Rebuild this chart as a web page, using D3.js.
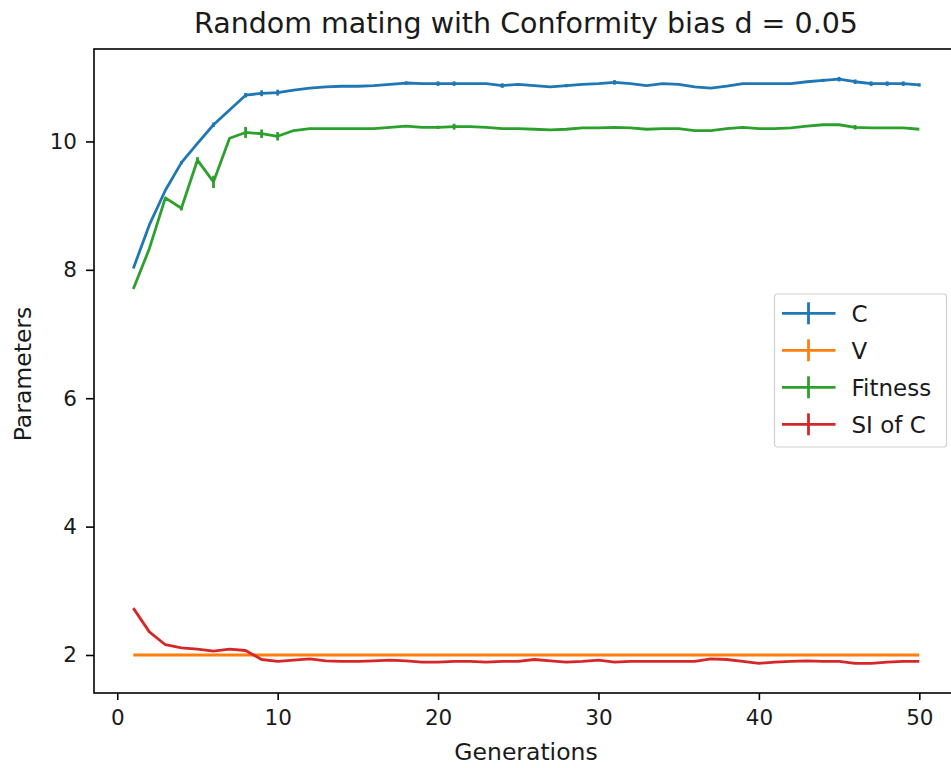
<!DOCTYPE html>
<html>
<head>
<meta charset="utf-8">
<script src="https://cdn.jsdelivr.net/npm/d3@7"></script>
<style>
body{margin:0;background:#fff;}
svg{display:block;font-family:"DejaVu Sans",sans-serif;}
</style>
</head>
<body>
<svg id="chart" width="951" height="768"></svg>
<script>
const generations = d3.range(1, 51);
const seriesNames = ["C", "V", "Fitness", "SI of C"];
const seriesColors = ["#1f77b4", "#ff7f0e", "#2ca02c", "#d62728"];
const cValues = [8.02,8.70,9.24,9.67,9.97,10.26,10.49,10.72,10.75,10.76,
  10.80,10.83,10.85,10.86,10.86,10.87,10.89,10.91,10.90,10.90,
  10.90,10.90,10.90,10.87,10.89,10.87,10.85,10.87,10.89,10.90,
  10.92,10.90,10.87,10.90,10.89,10.85,10.83,10.86,10.90,10.90,
  10.90,10.90,10.93,10.95,10.97,10.93,10.90,10.90,10.90,10.88];
const vValues = generations.map(() => 2.0);
const fitnessValues = [7.70,8.33,9.12,8.96,9.71,9.37,10.05,10.14,10.12,10.08,
  10.17,10.20,10.20,10.20,10.20,10.20,10.22,10.24,10.22,10.22,
  10.23,10.23,10.22,10.20,10.20,10.19,10.18,10.19,10.21,10.21,
  10.22,10.21,10.19,10.20,10.20,10.17,10.17,10.20,10.22,10.20,
  10.20,10.21,10.24,10.26,10.26,10.22,10.21,10.21,10.21,10.19];
const siValues = [2.73,2.36,2.16,2.11,2.09,2.06,2.09,2.07,1.93,1.90,
  1.92,1.94,1.91,1.90,1.90,1.91,1.92,1.91,1.89,1.89,
  1.90,1.90,1.89,1.90,1.90,1.93,1.91,1.89,1.90,1.92,
  1.89,1.90,1.90,1.90,1.90,1.90,1.94,1.93,1.90,1.87,
  1.89,1.90,1.91,1.90,1.90,1.87,1.87,1.89,1.90,1.90];
const cErrors = [0,0,0,0.01,0,0.02,0,0.02,0.03,0.03,0,0,0,0,0,0,0,0.01,0,0.02,
  0.02,0,0,0.02,0,0,0,0.01,0,0,0.02,0,0,0,0,0,0,0,0,0,0,0,0,0.01,0.02,0.02,0.02,0.02,0.02,0.01];
const fitnessErrors = [0,0,0,0.02,0.03,0.08,0,0.07,0.05,0.05,0,0,0,0,0,0,0,0,0,0.01,
  0.03,0,0,0,0,0,0,0,0,0,0,0,0,0,0,0,0,0,0,0,0,0,0,0,0,0.02,0,0,0,0];
const vErrors = generations.map(() => 0);
const siErrors = generations.map(() => 0);
const xTicks = [0, 10, 20, 30, 40, 50];
const yTicks = [2, 4, 6, 8, 10];
const titleText = "Random mating with Conformity bias d = 0.05";
const xLabel = "Generations";
const yLabel = "Parameters";

const series = [
  {name: seriesNames[0], color: seriesColors[0], values: cValues, errors: cErrors},
  {name: seriesNames[1], color: seriesColors[1], values: vValues, errors: vErrors},
  {name: seriesNames[2], color: seriesColors[2], values: fitnessValues, errors: fitnessErrors},
  {name: seriesNames[3], color: seriesColors[3], values: siValues, errors: siErrors}
];

const svg = d3.select("#chart");
const mLeft = 94, mRight = 958.6, mTop = 49, mBottom = 693;
const x = d3.scaleLinear().domain([-1.45, 52.45]).range([mLeft, mRight]);
const y = d3.scaleLinear().domain([1.408, 11.44]).range([mBottom, mTop]);
const textColor = "#1a1a1a";
const lw = 2.8;

// series lines
const line = d3.line().x((d, i) => x(generations[i])).y(d => y(d));
series.forEach(s => {
  const g = svg.append("g");
  g.append("path").attr("d", line(s.values)).attr("fill", "none")
    .attr("stroke", s.color).attr("stroke-width", lw).attr("stroke-linejoin", "round");
  g.selectAll("line.err").data(s.values.map((v, i) => ({v, e: s.errors[i], gen: generations[i]})).filter(d => d.e > 0))
    .enter().append("line")
    .attr("x1", d => x(d.gen)).attr("x2", d => x(d.gen))
    .attr("y1", d => y(d.v - d.e) + 1).attr("y2", d => y(d.v + d.e) - 1)
    .attr("stroke", s.color).attr("stroke-width", lw);
});

// axes
const xAxis = d3.axisBottom(x).tickValues(xTicks).tickSize(7).tickPadding(10).tickFormat(d3.format("d"));
const yAxis = d3.axisLeft(y).tickValues(yTicks).tickSize(8).tickPadding(9).tickFormat(d3.format("d"));
const gx = svg.append("g").attr("transform", `translate(0,${mBottom})`).call(xAxis);
const gy = svg.append("g").attr("transform", `translate(${mLeft},0)`).call(yAxis);
[gx, gy].forEach(g => {
  g.select(".domain").remove();
  g.selectAll(".tick line").attr("stroke", "#000").attr("stroke-width", 1.6);
  g.selectAll(".tick text").attr("font-size", 21.5).attr("fill", textColor).attr("font-family", "DejaVu Sans");
});
// frame
svg.append("rect").attr("x", mLeft).attr("y", mTop).attr("width", mRight - mLeft).attr("height", mBottom - mTop)
  .attr("fill", "none").attr("stroke", "#000").attr("stroke-width", 1.6);

// titles
svg.append("text").attr("x", 526).attr("y", 33).attr("text-anchor", "middle")
  .attr("font-size", 28.5).attr("fill", textColor).text(titleText);
svg.append("text").attr("x", 526).attr("y", 760).attr("text-anchor", "middle")
  .attr("font-size", 23.5).attr("fill", textColor).text(xLabel);
svg.append("text").attr("transform", "translate(31,374) rotate(-90)").attr("text-anchor", "middle")
  .attr("font-size", 23.5).attr("fill", textColor).text(yLabel);

// legend
const lg = svg.append("g").attr("transform", "translate(774.5,294)");
lg.append("rect").attr("width", 172).attr("height", 153).attr("rx", 3)
  .attr("fill", "#fff").attr("fill-opacity", 0.8).attr("stroke", "#d0d0d0").attr("stroke-width", 1.2);
series.forEach((s, i) => {
  const yy = 19.3 + i * 37;
  lg.append("line").attr("x1", 7.5).attr("x2", 61).attr("y1", yy).attr("y2", yy)
    .attr("stroke", s.color).attr("stroke-width", lw);
  lg.append("line").attr("x1", 34).attr("x2", 34).attr("y1", yy - 11).attr("y2", yy + 11)
    .attr("stroke", s.color).attr("stroke-width", lw);
  lg.append("text").attr("x", 77).attr("y", yy + 8.3).attr("font-size", 23).attr("fill", textColor).text(s.name);
});
</script>
</body>
</html>
